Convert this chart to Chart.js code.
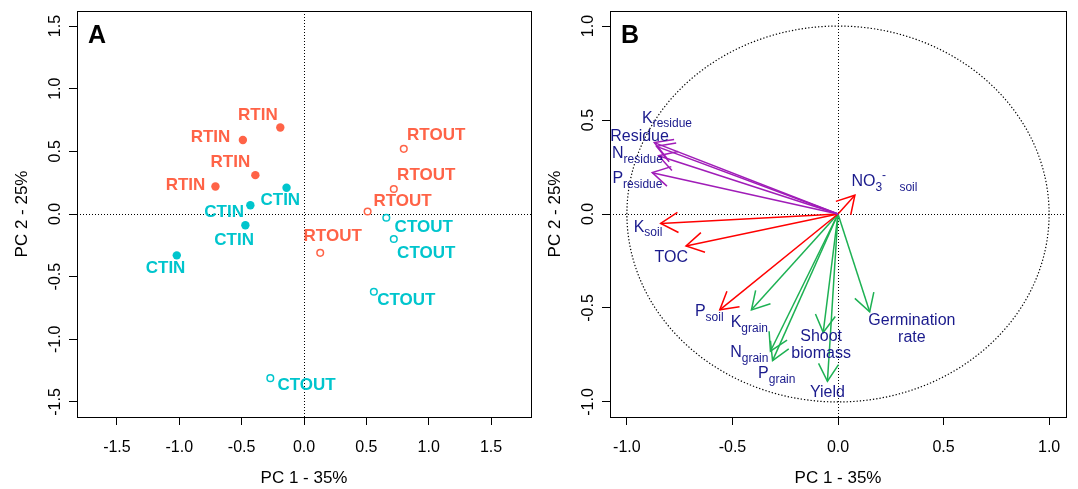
<!DOCTYPE html>
<html lang="en">
<head>
<meta charset="UTF-8">
<title>PCA - scores and loadings</title>
<script src="https://cdn.jsdelivr.net/npm/chart.js@4.4.0/dist/chart.umd.min.js"></script>
<style>
  body { margin: 0; background: #fff; }
  .wrap { position: relative; width: 1078px; height: 489px; }
  canvas { position: absolute; top: 0; }
  #pa { left: 0; }
  #pb { left: 539px; }
</style>
</head>
<body>
<div class="wrap">
  <canvas id="pa" width="539" height="489"></canvas>
  <canvas id="pb" width="539" height="489"></canvas>
</div>
<script>
// ---- panel A : sample scores ----
var rtinX  = [-0.19, -0.49, -0.39, -0.71];
var rtinY  = [0.69, 0.59, 0.31, 0.22];
var ctinX  = [-0.14, -0.43, -0.47, -1.02];
var ctinY  = [0.21, 0.07, -0.09, -0.33];
var rtoutX = [0.80, 0.72, 0.51, 0.13];
var rtoutY = [0.52, 0.20, 0.02, -0.31];
var ctoutX = [0.66, 0.72, 0.56, -0.27];
var ctoutY = [-0.03, -0.20, -0.62, -1.31];
// where each sample name sits (data units)
var rtinLabX  = [-0.37, -0.75, -0.59, -0.95];
var rtinLabY  = [0.79, 0.61, 0.41, 0.23];
var ctinLabX  = [-0.19, -0.64, -0.56, -1.11];
var ctinLabY  = [0.11, 0.01, -0.21, -0.43];
var rtoutLabX = [1.06, 0.98, 0.79, 0.23];
var rtoutLabY = [0.63, 0.31, 0.10, -0.18];
var ctoutLabX = [0.96, 0.98, 0.82, 0.02];
var ctoutLabY = [-0.11, -0.31, -0.69, -1.37];
var ticksA = [-1.5, -1.0, -0.5, 0.0, 0.5, 1.0, 1.5];

// ---- panel B : variable loadings ----
var varNames = ['K_{residue}', 'Residue', 'N_{residue}', 'P_{residue}',
                'K_{soil}', 'TOC', 'P_{soil}', 'NO_{3}^{-}_{    soil}',
                'K_{grain}', 'N_{grain}', 'P_{grain}', 'Shoot\nbiomass', 'Yield', 'Germination\nrate'];
var varGroup = ['residue', 'residue', 'residue', 'residue',
                'soil', 'soil', 'soil', 'soil',
                'crop', 'crop', 'crop', 'crop', 'crop', 'crop'];
var loadX = [-0.87, -0.86, -0.85, -0.88, -0.84, -0.72, -0.56, 0.08, -0.41, -0.32, -0.31, -0.07, -0.05, 0.15];
var loadY = [0.38, 0.36, 0.31, 0.22, -0.05, -0.17, -0.51, 0.10, -0.51, -0.73, -0.78, -0.63, -0.89, -0.52];
var varLabX = [-0.81, -0.94, -0.95, -0.95, -0.90, -0.79, -0.61, 0.22, -0.42, -0.42, -0.29, -0.08, -0.05, 0.35];
var varLabY = [0.51, 0.41, 0.32, 0.19, -0.07, -0.23, -0.52, 0.17, -0.58, -0.74, -0.85, -0.70, -0.95, -0.61];
var ticksB = [-1.0, -0.5, 0.0, 0.5, 1.0];

var groupColor = { residue: '#A01CB8', soil: '#FF0000', crop: '#1DB153' };
var RED = '#FF6347', CYAN = '#00C5CD', NAVY = '#1A1A8C';
var FONT = '"Liberation Sans", Arial, sans-serif';

function xy(xs, ys) {
  return xs.map(function (v, i) { return { x: v, y: ys[i] }; });
}

function axis(ticks, lim, isY, title, titlePad) {
  var o = {
    type: 'linear',
    min: -lim, max: lim,
    afterBuildTicks: function (s) { s.ticks = ticks.map(function (v) { return { value: v }; }); },
    grid: {
      color: function (c) { return c.tick && c.tick.value === 0 ? '#000' : 'rgba(0,0,0,0)'; },
      tickColor: '#000', tickLength: 8, lineWidth: 1
    },
    border: { display: false, dash: [1, 2] },
    ticks: {
      color: '#000', font: { family: FONT, size: 16 },
      callback: function (v) { return v.toFixed(1); }
    },
    title: { display: true, text: title, color: '#000', font: { family: FONT, size: 17 } }
  };
  if (isY) {
    o.ticks.minRotation = 90; o.ticks.maxRotation = 90;
    o.ticks.crossAlign = 'center'; o.ticks.padding = 0;
    o.title.padding = { top: titlePad, bottom: 0 };
  } else {
    o.ticks.padding = 13;
    o.title.padding = { top: 0, bottom: 0 };
    o.afterFit = function (s) { s.height = 72; };
  }
  return o;
}

// box, dotted circle and panel letter
function frame(letter, circle) {
  return {
    id: 'frame' + letter,
    beforeDatasetsDraw: function (chart) {
      var ctx = chart.ctx;
      var xs = chart.scales.x, ys = chart.scales.y;
      if (!circle) return;
      ctx.save();
      var cx = xs.getPixelForValue(0), cy = ys.getPixelForValue(0);
      ctx.beginPath();
      ctx.setLineDash([1.3, 2]);
      ctx.strokeStyle = '#000';
      ctx.lineWidth = 1.2;
      ctx.ellipse(cx, cy, xs.getPixelForValue(1) - cx, cy - ys.getPixelForValue(1), 0, 0, Math.PI * 2);
      ctx.stroke();
      ctx.restore();
    },
    afterDraw: function (chart) {
      var ctx = chart.ctx, a = chart.chartArea;
      ctx.save();
      ctx.strokeStyle = '#000';
      ctx.lineWidth = 1;
      ctx.strokeRect(Math.round(a.left) + 0.5, Math.round(a.top) + 0.5, Math.round(a.right - a.left), Math.round(a.bottom - a.top));
      ctx.fillStyle = '#000';
      ctx.font = 'bold 25px ' + FONT;
      ctx.textAlign = 'center';
      ctx.textBaseline = 'middle';
      ctx.fillText(letter, a.left + 20, a.top + 25);
      ctx.restore();
    }
  };
}

// ---------- panel A ----------
var groupsA = [
  { name: 'RTIN',  color: RED,  lx: rtinLabX,  ly: rtinLabY },
  { name: 'CTIN',  color: CYAN, lx: ctinLabX,  ly: ctinLabY },
  { name: 'RTOUT', color: RED,  lx: rtoutLabX, ly: rtoutLabY },
  { name: 'CTOUT', color: CYAN, lx: ctoutLabX, ly: ctoutLabY }
];

var sampleLabels = {
  id: 'sampleLabels',
  afterDatasetsDraw: function (chart) {
    var ctx = chart.ctx, xs = chart.scales.x, ys = chart.scales.y;
    ctx.save();
    ctx.font = 'bold 17px ' + FONT;
    ctx.textAlign = 'center';
    ctx.textBaseline = 'middle';
    groupsA.forEach(function (g) {
      ctx.fillStyle = g.color;
      for (var i = 0; i < g.lx.length; i++) {
        ctx.fillText(g.name, xs.getPixelForValue(g.lx[i]), ys.getPixelForValue(g.ly[i]));
      }
    });
    ctx.restore();
  }
};

var yA = axis(ticksA, 1.62, true, 'PC 2 - 25%', 12);
yA.afterFit = function (s) { s.width = 77; };

new Chart(document.getElementById('pa'), {
  type: 'scatter',
  data: {
    datasets: [
      { label: 'RTIN', data: xy(rtinX, rtinY), pointRadius: 4.2, backgroundColor: RED, borderColor: RED, borderWidth: 0 },
      { label: 'CTIN', data: xy(ctinX, ctinY), pointRadius: 4.2, backgroundColor: CYAN, borderColor: CYAN, borderWidth: 0 },
      { label: 'RTOUT', data: xy(rtoutX, rtoutY), pointRadius: 3.3, backgroundColor: '#fff', borderColor: RED, borderWidth: 1.5 },
      { label: 'CTOUT', data: xy(ctoutX, ctoutY), pointRadius: 3.3, backgroundColor: '#fff', borderColor: CYAN, borderWidth: 1.5 }
    ]
  },
  options: {
    responsive: false, animation: false, events: [], devicePixelRatio: 1,
    layout: { padding: { top: 11, right: 8, left: 0, bottom: 0 } },
    plugins: { legend: { display: false }, tooltip: { enabled: false } },
    scales: { x: axis(ticksA, 1.82, false, 'PC 1 - 35%', 0), y: yA }
  },
  plugins: [frame('A', false), sampleLabels]
});

// ---------- panel B ----------
function drawRich(ctx, str, cx, cy) {
  var lines = str.split('\n');
  var lh = 17;
  var y0 = cy - (lines.length - 1) * lh / 2;
  lines.forEach(function (line, li) {
    var parts = [], re = /([_^])\{([^}]*)\}|([^_^]+)/g, m;
    while ((m = re.exec(line)) !== null) {
      if (m[3]) parts.push({ t: m[3], k: 'n' });
      else parts.push({ t: m[2], k: m[1] === '_' ? 'sub' : 'sup' });
    }
    var w = 0;
    parts.forEach(function (p) {
      ctx.font = (p.k === 'n' ? '16px ' : '12px ') + FONT;
      p.w = ctx.measureText(p.t).width;
      w += p.w;
    });
    var x = cx - w / 2, y = y0 + li * lh;
    parts.forEach(function (p) {
      ctx.font = (p.k === 'n' ? '16px ' : '12px ') + FONT;
      var dy = p.k === 'sub' ? 6 : (p.k === 'sup' ? -6 : 0);
      ctx.fillText(p.t, x, y + dy);
      x += p.w;
    });
  });
}

var arrowHeads = {
  id: 'arrowHeads',
  afterDatasetsDraw: function (chart) {
    var ctx = chart.ctx;
    ctx.save();
    ctx.lineWidth = 1.5;
    chart.data.datasets.forEach(function (ds, i) {
      var pts = chart.getDatasetMeta(i).data;
      var p0 = pts[0], p1 = pts[1];
      var ang = Math.atan2(p1.y - p0.y, p1.x - p0.x), L = 20;
      ctx.strokeStyle = ds.borderColor;
      ctx.beginPath();
      ctx.moveTo(p1.x - L * Math.cos(ang - Math.PI / 6), p1.y - L * Math.sin(ang - Math.PI / 6));
      ctx.lineTo(p1.x, p1.y);
      ctx.lineTo(p1.x - L * Math.cos(ang + Math.PI / 6), p1.y - L * Math.sin(ang + Math.PI / 6));
      ctx.stroke();
    });
    var xs = chart.scales.x, ys = chart.scales.y;
    ctx.fillStyle = NAVY;
    ctx.textAlign = 'left';
    ctx.textBaseline = 'middle';
    varNames.forEach(function (n, i) {
      drawRich(ctx, n, xs.getPixelForValue(varLabX[i]), ys.getPixelForValue(varLabY[i]));
    });
    ctx.restore();
  }
};

var yB = axis(ticksB, 1.08, true, 'PC 2 - 25%', 6);
yB.afterFit = function (s) { s.width = 71; };

new Chart(document.getElementById('pb'), {
  type: 'scatter',
  data: {
    datasets: varNames.map(function (n, i) {
      return {
        label: n,
        data: [{ x: 0, y: 0 }, { x: loadX[i], y: loadY[i] }],
        showLine: true, pointRadius: 0, borderWidth: 1.5,
        borderColor: groupColor[varGroup[i]]
      };
    })
  },
  options: {
    responsive: false, animation: false, events: [], devicePixelRatio: 1,
    layout: { padding: { top: 11, right: 12, left: 0, bottom: 0 } },
    plugins: { legend: { display: false }, tooltip: { enabled: false } },
    scales: { x: axis(ticksB, 1.08, false, 'PC 1 - 35%', 0), y: yB }
  },
  plugins: [frame('B', true), arrowHeads]
});
</script>
</body>
</html>
